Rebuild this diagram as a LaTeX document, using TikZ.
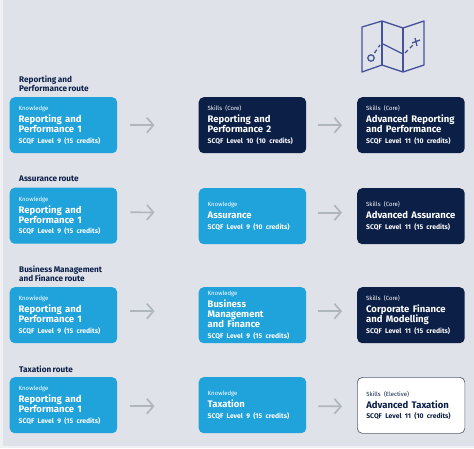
\documentclass[tikz,border=0pt]{standalone}
\usepackage{fontspec}
\setmainfont[WordSpace=0.75]{Fira Sans}
\usetikzlibrary{arrows.meta}
\definecolor{bgc}{HTML}{DFE2E9}
\definecolor{knowc}{HTML}{20A2DA}
\definecolor{skillc}{HTML}{0C1F47}
\definecolor{arrc}{HTML}{B0B6BE}
\definecolor{iconc}{HTML}{46539A}
\definecolor{edgec}{HTML}{5A6178}
\newcommand{\cardtext}[3]{\hyphenpenalty=10000 {\fontsize{6}{7}\selectfont #1\par}\vspace{2pt}{\fontsize{9.5}{10}\selectfont\bfseries #2\par}\vspace{2.5pt}{\fontsize{6.8}{8}\selectfont\bfseries #3\par}}
\tikzset{
 x=1pt,y=-1pt,
 card/.style={anchor=north west,minimum width=107.5pt,minimum height=56pt,text width=89.5pt,inner xsep=9pt,inner ysep=0pt,align=left,rounded corners=5pt},
 know/.style={card,fill=knowc,text=white},
 skill/.style={card,fill=skillc,text=white},
 elective/.style={card,fill=white,draw=edgec,line width=.7pt,text=skillc},
 route/.style={anchor=west,text=skillc,font=\fontsize{8.2}{8.8}\selectfont\bfseries,align=left,inner sep=0pt},
 step1/.style={draw=arrc,line width=1.7pt,-{Straight Barb[length=6.5pt,width=15pt]},shorten <=13pt,shorten >=44pt},
 step2/.style={draw=arrc,line width=1.7pt,-{Straight Barb[length=6.5pt,width=15pt]},shorten <=12pt,shorten >=15pt},
 icon/.style={draw=iconc,line width=1.3pt,line join=round},
}
\begin{document}
\begin{tikzpicture}
\useasboundingbox[fill=bgc] (0,0) rectangle (474,448);
\fill[white!50!bgc] (0,0) rectangle (2.5,448);
\fill[white!50!bgc] (0,446) rectangle (474,448);

% icon
\draw[icon] (362,27) -- (382,21) -- (403,28) -- (424,21) -- (424,65) -- (403,72) -- (382,65) -- (362,72) -- cycle;
\draw[icon] (382,21) -- (382,65) (403,28) -- (403,72);
\draw[icon] (371,58) circle (3.2pt);
\draw[icon,dash pattern=on 4pt off 3pt] (374.5,53) -- (380,45);
\draw[icon] (383,44) -- (403,54);
\draw[icon,dash pattern=on 4pt off 3pt] (405,53) -- (413,45);
\draw[icon] (412,43) -- (420,40) (415,38) -- (417,46);

% route labels
\node[route] (l1) at (19,84) {Reporting and\\Performance route};
\node[route] (l2) at (19,179) {Assurance route};
\node[route] (l3) at (19,274) {Business Management\\and Finance route};
\node[route] (l4) at (19,369) {Taxation route};

% column 1
\node[know] (a1) at (9.5,97) {\cardtext{Knowledge}{Reporting and\\Performance 1}{SCQF Level 9 (15 credits)}};
\node[know] (a2) at (9.5,187.5) {\cardtext{Knowledge}{Reporting and\\Performance 1}{SCQF Level 9 (15 credits)}};
\node[know] (a3) at (9.5,287) {\cardtext{Knowledge}{Reporting and\\Performance 1}{SCQF Level 9 (15 credits)}};
\node[know] (a4) at (9.5,377) {\cardtext{Knowledge}{Reporting and\\Performance 1}{SCQF Level 9 (15 credits)}};

% column 2
\node[skill] (b1) at (198.5,97) {\cardtext{Skills (Core)}{Reporting and\\Performance 2}{SCQF Level 10 (10 credits)}};
\node[know] (b2) at (198.5,188) {\cardtext{Knowledge}{Assurance}{SCQF Level 9 (10 credits)}};
\node[know] (b3) at (198.5,287) {\cardtext{Knowledge}{Business\\Management\\and Finance}{SCQF Level 9 (15 credits)}};
\node[know] (b4) at (198.5,377) {\cardtext{Knowledge}{Taxation}{SCQF Level 9 (15 credits)}};

% column 3
\node[skill] (c1) at (357,97) {\cardtext{Skills (Core)}{Advanced Reporting\\and Performance}{SCQF Level 11 (10 credits)}};
\node[skill] (c2) at (357,188) {\cardtext{Skills (Core)}{Advanced Assurance}{SCQF Level 11 (15 credits)}};
\node[skill] (c3) at (357,287) {\cardtext{Skills (Core)}{Corporate Finance\\and Modelling}{SCQF Level 11 (15 credits)}};
\node[elective] (c4) at (357,377) {\cardtext{Skills (Elective)}{Advanced Taxation}{SCQF Level 11 (10 credits)}};

% connectors
\foreach \r/\dy in {1/0,2/-3.5,3/-4,4/1}{
  \draw[step1,transform canvas={yshift=-\dy pt}] (a\r.east) -- (b\r.west);
  \draw[step2,transform canvas={yshift=-\dy pt}] (b\r.east) -- (c\r.west);
}
\end{tikzpicture}
\end{document}
